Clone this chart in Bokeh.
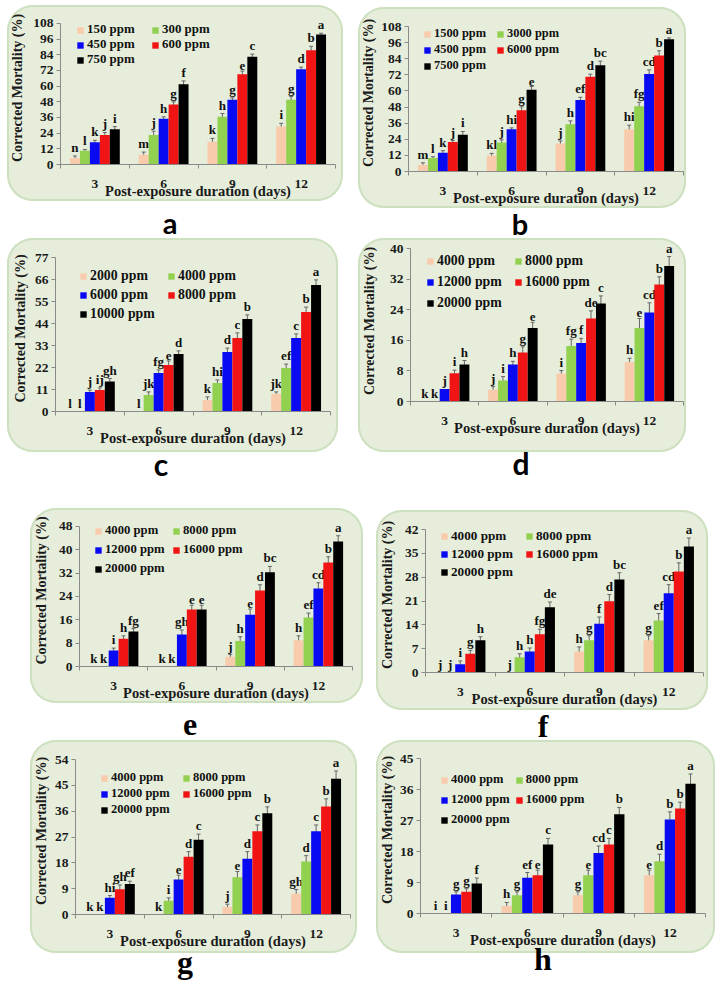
from bokeh.plotting import figure
from bokeh.models import Range1d, FixedTicker, Whisker, TeeHead, ColumnDataSource, Div
from bokeh.layouts import row, column
from bokeh.transform import dodge
from bokeh.core.properties import value
from bokeh.embed import file_html
from bokeh.resources import INLINE

DAYS = ["3", "6", "9", "12"]
SERIES_COLORS = ["#f9cbad", "#92d050", "#0a0af2", "#f01414", "#000000"]

# ---------------- panel a ----------------
A_CONC = ["150 ppm", "300 ppm", "450 ppm", "600 ppm", "750 ppm"]
A_VALS = [[5, 10.5, 17, 22.5, 27], [7.5, 22.5, 35, 46, 61.5], [17.5, 36.5, 49.5, 69, 82.5], [29, 49.5, 73, 87.5, 99.5]]
A_ERR = [[1.5, 1, 1.5, 2, 2], [2, 3, 1.5, 2, 2.5], [2.5, 2.5, 1.5, 2.5, 2], [2.5, 2.5, 1.5, 3, 1]]
A_SIG = [["n", "l", "k", "j", "i"], ["m", "j", "h", "g", "f"], ["k", "h", "g", "e", "c"], ["i", "g", "d", "b", "a"]]
A_TICKS = [0, 12, 24, 36, 48, 60, 72, 84, 96, 108]

# ---------------- panel b ----------------
B_CONC = ["1500 ppm", "3000 ppm", "4500 ppm", "6000 ppm", "7500 ppm"]
B_VALS = [[5, 10, 14, 22, 27.3], [12, 21.6, 31.5, 45.7, 60.8], [20.8, 35.2, 53.3, 70.5, 79.2], [31.5, 48.6, 72.7, 86.4, 98.5]]
B_ERR = [[1.5, 1, 1.5, 1, 2.5], [1.5, 2, 1, 2.5, 2.5], [2, 2.5, 2, 2, 3], [3, 3, 3, 3.5, 1]]
B_SIG = [["m", "l", "k", "j", "i"], ["kl", "j", "hi", "g", "e"], ["j", "h", "ef", "d", "bc"], ["hi", "fg", "cd", "b", "a"]]
B_TICKS = [0, 12, 24, 36, 48, 60, 72, 84, 96, 108]

# ---------------- panel c ----------------
C_CONC = ["2000 ppm", "4000 ppm", "6000 ppm", "8000 ppm", "10000 ppm"]
C_VALS = [[0, 0, 9.7, 10.8, 15], [0, 8.3, 19.3, 23.3, 28.8], [5.8, 14.3, 29.7, 36.8, 46.3], [8.8, 21.7, 36.8, 49.7, 63.3]]
C_ERR = [[0, 0, 1, 1, 1.5], [0, 1.5, 1.5, 2, 1.5], [1.5, 1.5, 2, 2.5, 2], [1, 2, 2, 2.5, 2.5]]
C_SIG = [["l", "l", "j", "ij", "gh"], ["l", "jk", "fg", "e", "d"], ["k", "hi", "d", "c", "b"], ["jk", "ef", "c", "b", "a"]]
C_TICKS = [0, 11, 22, 33, 44, 55, 66, 77]

# ---------------- panels d-h share concentrations ----------------
DH_CONC = ["4000 ppm", "8000 ppm", "12000 ppm", "16000 ppm", "20000 ppm"]

D_VALS = [[0, 0, 3.3, 7.4, 9.7], [3.1, 5.5, 9.7, 12.8, 19.2], [7.3, 14.5, 15.3, 21.7, 25.6], [10.3, 19.2, 23.3, 30.6, 35.4]]
D_ERR = [[0, 0, 0, 0.8, 1], [0.8, 1, 0.8, 1.5, 1.5], [0.8, 1.8, 1.2, 2, 2], [1, 2.5, 2.5, 2, 2.5]]
D_SIG = [["k", "k", "j", "i", "h"], ["j", "i", "h", "g", "e"], ["i", "fg", "f", "de", "c"], ["h", "e", "cd", "b", "a"]]
D_TICKS = [0, 8, 16, 24, 32, 40]

E_VALS = [[0, 0, 5.5, 9.5, 12], [0, 0, 11, 19.5, 19.5], [3.3, 8.7, 17.7, 26, 32.3], [9, 16.8, 26.7, 35.6, 42.8]]
E_ERR = [[0, 0, 0.8, 1, 1], [0, 0, 1.5, 1.5, 1.5], [0.8, 1.5, 2, 2, 2], [1.5, 1.5, 2, 2, 2]]
E_SIG = [["k", "k", "i", "h", "fg"], ["k", "k", "gh", "e", "e"], ["j", "h", "e", "d", "bc"], ["h", "ef", "cd", "b", "a"]]
E_TICKS = [0, 8, 16, 24, 32, 40, 48]

F_VALS = [[0, 0, 2.4, 5.5, 9.5], [0, 4.5, 6.2, 11.2, 19.2], [6.2, 9.5, 14.3, 20.9, 27.3], [9.5, 15.3, 23.3, 29.7, 37]]
F_ERR = [[0, 0, 1, 1, 1], [0, 1, 1, 1.5, 1.5], [1.3, 1.3, 2, 2, 2], [1.3, 2, 2.5, 2.5, 2.5]]
F_SIG = [["j", "j", "i", "g", "h"], ["j", "h", "h", "fg", "de"], ["h", "g", "f", "d", "bc"], ["g", "ef", "cd", "b", "a"]]
F_TICKS = [0, 7, 14, 21, 28, 35, 42]

G_VALS = [[0, 0, 5.8, 8.8, 10.6], [0, 4.8, 12.2, 20.1, 26], [2.6, 13, 19.4, 29, 35.3], [7.2, 18.5, 29, 37.6, 47.3]]
G_ERR = [[0, 0, 0.8, 1.5, 1], [0, 1, 1.5, 1.8, 2], [1, 2, 2.5, 2.2, 2.2], [1.5, 2, 2.2, 2.7, 2.7]]
G_SIG = [["k", "k", "hi", "gh", "ef"], ["k", "i", "e", "d", "c"], ["j", "e", "d", "c", "b"], ["gh", "d", "c", "b", "a"]]
G_TICKS = [0, 9, 18, 27, 36, 45, 54]

H_VALS = [[0, 0, 5.5, 6.3, 8.7], [2.2, 5.3, 10.4, 11.1, 20], [5.3, 11.1, 17.6, 20, 28.8], [11.1, 15.2, 27.3, 30.5, 37.7]]
H_ERR = [[0, 0, 0.8, 0.9, 1.6], [1, 1, 1.5, 1.5, 1.8], [1, 1.5, 2, 1.8, 2], [1.5, 2, 2.2, 1.8, 2.8]]
H_SIG = [["i", "i", "g", "g", "f"], ["h", "g", "ef", "e", "c"], ["g", "e", "cd", "c", "b"], ["e", "d", "b", "b", "a"]]
H_TICKS = [0, 9, 18, 27, 36, 45]

X_TITLE = "Post-exposure duration (days)"
Y_TITLE = "Corrected Mortality (%)"

SERIF = "Liberation Serif"
AXIS_GRAY = "#8a8a8a"
ERR_GRAY = "#666666"
BOX_FILL = "#e6eedb"
BOX_LINE = "#cde0bf"
BW = 0.145


def panel(conc, vals, errs, sigs, ticks, size, als, leg, margin):
    w, h, bl, br, bt, bb = size
    h0 = h - bt - bb                 # pixel height of the 0..top-tick span
    extra = min(bt - 2, 12)          # headroom above the top tick for letters
    y_end = ticks[-1] + extra * (ticks[-1] - ticks[0]) / h0
    p = figure(width=w, height=h, output_backend="svg", toolbar_location=None, title=None,
               x_range=Range1d(0.5, len(DAYS) + 0.5), y_range=Range1d(ticks[0], y_end),
               min_border_left=bl, min_border_right=br, min_border_top=bt - extra,
               min_border_bottom=bb, frame_align=False,
               border_fill_color=None, background_fill_color=None, outline_line_color=None,
               margin=margin)
    p.styles = {"background-color": BOX_FILL, "border-radius": "26px",
                "box-shadow": f"inset 0 0 0 2px {BOX_LINE}"}
    p.xgrid.visible = False
    p.ygrid.visible = False
    xc = list(range(1, len(DAYS) + 1))
    for k, (name, color) in enumerate(zip(conc, SERIES_COLORS)):
        off = (k - 2) * BW
        top = [r[k] for r in vals]
        err = [r[k] for r in errs]
        sig = [r[k] for r in sigs]
        src = ColumnDataSource(dict(xc=xc, top=top, hi=[t + e for t, e in zip(top, err)], sig=sig))
        p.vbar(x=dodge("xc", off), top="top", width=BW, source=src,
               fill_color=color, line_color=None, legend_label=name)
        idx = [i for i in range(len(top)) if err[i] > 0]
        wsrc = ColumnDataSource(dict(xc=[xc[i] for i in idx],
                                     lo=[top[i] - err[i] for i in idx],
                                     hi=[top[i] + err[i] for i in idx]))
        p.add_layout(Whisker(source=wsrc, base=dodge("xc", off), lower="lo", upper="hi",
                             line_color=ERR_GRAY, line_width=1,
                             upper_head=TeeHead(size=4, line_color=ERR_GRAY, line_width=1),
                             lower_head=TeeHead(size=4, line_color=ERR_GRAY, line_width=1)))
        p.text(x=dodge("xc", off), y="hi", text="sig", source=src, text_align="center",
               text_baseline="bottom", y_offset=-1, text_font=value(SERIF),
               text_font_style="bold", text_font_size="13px", text_color="#111111")

    ya = p.yaxis[0]
    ya.ticker = FixedTicker(ticks=ticks, minor_ticks=[])
    ya.bounds = (ticks[0], ticks[-1])
    ya.axis_label = Y_TITLE
    ya.axis_line_color = AXIS_GRAY
    ya.major_tick_line_color = AXIS_GRAY
    ya.major_tick_out = 4
    ya.major_tick_in = 0
    ya.minor_tick_out = 0
    ya.minor_tick_in = 0
    ya.major_label_standoff = 3
    ya.major_label_text_font = SERIF
    ya.major_label_text_font_style = "bold"
    ya.major_label_text_font_size = "13.5px"
    ya.major_label_text_color = "#1a1a1a"
    ya.axis_label_text_font = SERIF
    ya.axis_label_text_font_style = "bold"
    ya.axis_label_text_font_size = "14px"
    ya.axis_label_text_color = "#1a1a1a"
    ya.axis_label_standoff = als

    xa = p.xaxis[0]
    xa.ticker = FixedTicker(ticks=xc, minor_ticks=[i + 0.5 for i in range(len(DAYS) + 1)])
    xa.major_label_overrides = {i + 1: d for i, d in enumerate(DAYS)}
    xa.axis_line_color = AXIS_GRAY
    xa.major_tick_out = 0
    xa.major_tick_in = 0
    xa.major_tick_line_color = None
    xa.minor_tick_out = 4
    xa.minor_tick_in = 0
    xa.minor_tick_line_color = AXIS_GRAY
    xa.major_label_standoff = 11
    xa.major_label_text_font = SERIF
    xa.major_label_text_font_style = "bold"
    xa.major_label_text_font_size = "13.5px"
    xa.major_label_text_color = "#1a1a1a"
    xa.axis_label = X_TITLE
    xa.axis_label_text_font = SERIF
    xa.axis_label_text_font_style = "bold"
    xa.axis_label_text_font_size = "14.5px"
    xa.axis_label_text_color = "#1a1a1a"
    xa.axis_label_standoff = -8

    x_off, center1, pitch, colpitch, fsize = leg
    rowh = int(round(fsize * 1.2))
    spacing = max(0, int(round(pitch - rowh)))
    top_off = center1 - rowh / 2.0
    leg_h = 3 * rowh + 2 * spacing
    lg = p.legend[0]
    lg.orientation = "horizontal"
    lg.ncols = 2
    lg.glyph_width = 8
    lg.glyph_height = 8
    lg.label_standoff = 3
    lg.spacing = spacing
    lg.padding = 0
    lg.margin = 0
    lg.label_height = rowh
    lg.label_width = int(round(colpitch - 11 - spacing))
    lg.label_text_font = SERIF
    lg.label_text_font_style = "bold"
    lg.label_text_font_size = f"{fsize}px"
    lg.label_text_color = "#111111"
    lg.background_fill_alpha = 0
    lg.border_line_color = None
    lg.location = (x_off, int(round(h0 - top_off - leg_h)))
    return p


def letter(ch, font, size, shift, left, height):
    return Div(text=f'<span style="position:relative;top:{shift}px">{ch}</span>',
               width=40, height=height,
               margin=(0, 0, 0, left),
               styles={"font-family": font, "font-weight": "bold", "font-size": f"{size}px",
                       "line-height": f"{size}px", "text-align": "center", "color": "#000000"})


pa = panel(A_CONC, A_VALS, A_ERR, A_SIG, A_TICKS, (336, 196, 50, 8, 18, 36), 5, (16, 7.5, 15, 75, 12.9), (0, 0, 0, 0))
pb = panel(B_CONC, B_VALS, B_ERR, B_SIG, B_TICKS, (328, 201, 50, 3, 19, 37), 2, (15, 7, 16.3, 73, 12.4), (2, 0, 0, 15))
pc = panel(C_CONC, C_VALS, C_ERR, C_SIG, C_TICKS, (331, 214, 48, 8, 19, 41), 4, (24, 18.3, 18.5, 88, 13.8), (0, 0, 0, 0))
pd = panel(DH_CONC, D_VALS, D_ERR, D_SIG, D_TICKS, (328, 214, 47, 3, 10, 51), 10, (16, 12, 21, 88, 13.8), (0, 0, 0, 20))
pe = panel(DH_CONC, E_VALS, E_ERR, E_SIG, E_TICKS, (333, 195, 47, 11, 18, 36), 7, (15, 5.5, 19, 78, 12.7), (0, 0, 0, 23))
pf = panel(DH_CONC, F_VALS, F_ERR, F_SIG, F_TICKS, (332, 200, 49, 5, 19, 38), 7, (15, 7, 18, 85, 13.2), (2, 0, 0, 13))
pg = panel(DH_CONC, G_VALS, G_ERR, G_SIG, G_TICKS, (327, 213, 45, 7, 19, 39), 3, (25, 18.7, 16, 82, 12.5), (0, 0, 0, 23))
ph = panel(DH_CONC, H_VALS, H_ERR, H_SIG, H_TICKS, (339, 213, 44, 10, 18, 40), 2, (20, 22, 20, 73, 12.5), (0, 0, 0, 19))

SANS = "Lato"
l1 = row(letter("a", SANS, 29, -0.4, 143, 30), letter("b", SANS, 29, 1.3, 310, 30))
l2 = row(letter("c", SANS, 30, -2.6, 134, 56), letter("d", SANS, 30, -3.6, 320, 56))
l3 = row(letter("e", SERIF, 32, -1.8, 163, 30), letter("f", SERIF, 32, 0.2, 313, 30))
l4 = row(letter("g", SERIF, 32, -6.8, 158, 28), letter("h", SERIF, 32, -9.8, 318, 28))

root = column(row(pa, pb), l1, row(pc, pd), l2, row(pe, pf), l3, row(pg, ph), l4,
              margin=(5, 0, 0, 7))

open("out.html", "w").write(file_html(root, INLINE))
